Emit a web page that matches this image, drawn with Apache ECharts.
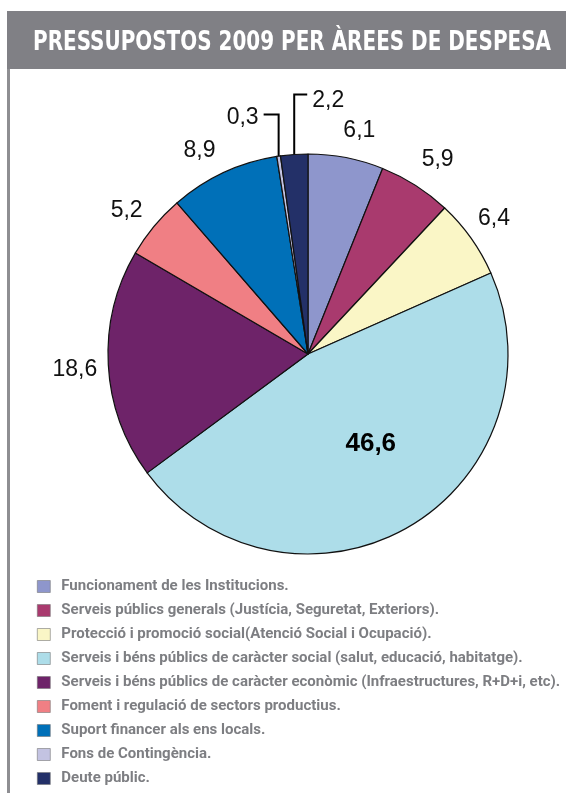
<!DOCTYPE html>
<html><head><meta charset="utf-8">
<script src="https://cdn.jsdelivr.net/npm/echarts@6/dist/echarts.min.js"></script>
<style>html,body{margin:0;padding:0;background:#fff}#c{width:566px;height:795px}</style>
</head><body><div id="c"></div>
<script>
// ---- data ----
const titleText = 'PRESSUPOSTOS 2009 PER ÀREES DE DESPESA';
const categories = [
  'Funcionament de les Institucions.',
  'Serveis públics generals (Justícia, Seguretat, Exteriors).',
  'Protecció i promoció social(Atenció Social i Ocupació).',
  'Serveis i béns públics de caràcter social (salut, educació, habitatge).',
  'Serveis i béns públics de caràcter econòmic (Infraestructures, R+D+i, etc).',
  'Foment i regulació de sectors productius.',
  'Suport financer als ens locals.',
  'Fons de Contingència.',
  'Deute públic.'
];
const values = [6.1, 5.9, 6.4, 46.6, 18.6, 5.2, 8.9, 0.3, 2.2];

// ---- styles ----
const colors = ['#8E96CC', '#A93A6E', '#FAF6C6', '#ADDDE9', '#6E2369', '#F07F84', '#0070B8', '#C3C3E2', '#233068'];
// per-slice label placement tweaks
const labelTweaks = [
  { len: 28, len2: 0, dist: -8 },
  { len: 30, len2: 0, dist: -10 },
  { len: 33, len2: 0, dist: -20 },
  { inside: true, dx: 11, dy: 1 },
  { len: 6, len2: 0, dist: 5, dy: 5 },
  { len: 24, len2: 0, dist: -7 },
  { len: 24, len2: 0, dist: -2 },
  { len: 42, len2: 15, dist: 5, bracket: -1, dy: 3 },
  { len: 60, len2: 13, dist: 5, bracket: 1, dy: 6 }
];

const ctx = document.createElement('canvas').getContext('2d');
function measure(text, font) { ctx.font = font; return ctx.measureText(text).width; }

const narrow = 'Roboto, "DejaVu Sans Condensed", sans-serif';
const titleFont = '"DejaVu Sans Condensed", sans-serif';
const titleSize = 26;
const titleScale = 518 / measure(titleText, 'bold ' + titleSize + 'px ' + titleFont);

const legendSize = 15;
const rowStep = 24;

const data = values.map((v, i) => {
  const t = labelTweaks[i];
  const item = { name: categories[i], value: v, itemStyle: { color: colors[i] } };
  if (t.inside) {
    item.label = { position: 'inside', fontSize: 26, fontWeight: 'bold', color: '#000' };
    item.labelLine = { show: false };
  } else {
    item.label = { position: 'outside', distanceToLabelLine: t.dist };
    item.labelLine = { show: !!t.bracket, length: t.len, length2: t.len2,
      lineStyle: { color: '#000', width: 2 } };
  }
  return item;
});

const chart = echarts.init(document.getElementById('c'), null, { renderer: 'canvas' });
chart.setOption({
  animation: false,
  backgroundColor: '#fff',
  graphic: [
    { type: 'rect', shape: { x: 7, y: 11, width: 559, height: 58 }, style: { fill: '#808085' }, silent: true },
    { type: 'rect', shape: { x: 7, y: 69, width: 3, height: 724 }, style: { fill: '#8e8e92' }, silent: true },
    { type: 'text', x: 33, y: 43.5, scaleX: titleScale, silent: true,
      style: { text: titleText, fontSize: titleSize, fontWeight: 'bold', fontFamily: titleFont,
               fill: '#fff', verticalAlign: 'middle', align: 'left' } }
  ],
  legend: {
    orient: 'vertical', left: 37, top: 579, height: 230,
    padding: 0,
    itemWidth: 13, itemHeight: 12, itemGap: rowStep - legendSize,
    icon: 'rect', selectedMode: false,
    itemStyle: { borderColor: '#777', borderWidth: 0.6 },
    textStyle: { fontFamily: narrow, fontWeight: 'bold', fontSize: legendSize, lineHeight: legendSize, color: '#7d7e82', padding: [0, 0, 0, 6] },
    data: categories
  },
  series: [{
    type: 'pie',
    center: [308, 354],
    radius: 200,
    startAngle: 90,
    clockwise: true,
    avoidLabelOverlap: false,
    emphasis: { disabled: true },
    itemStyle: { borderColor: '#111', borderWidth: 1.2 },
    label: {
      show: true,
      fontFamily: '"Liberation Sans", Arial, sans-serif',
      fontSize: 23, color: '#111',
      formatter: p => String(p.value).replace('.', ',')
    },
    labelLayout: function (p) {
      const t = labelTweaks[p.dataIndex];
      if (t.bracket && p.labelLinePoints && p.labelLinePoints.length >= 2) {
        const pts = p.labelLinePoints;
        const e = [pts[0][0], pts[0][1]];
        const k = pts[1];
        const nk = [e[0], k[1]];
        const ne = [e[0] + t.bracket * t.len2, k[1]];
        return {
          x: ne[0] + t.bracket * t.dist, y: ne[1] + (t.dy || 0),
          align: t.bracket > 0 ? 'left' : 'right', verticalAlign: 'middle',
          labelLinePoints: [e, nk, ne]
        };
      }
      return { dx: t.dx || 0, dy: t.dy || 0 };
    },
    data: data
  }]
});
</script>
</body></html>
